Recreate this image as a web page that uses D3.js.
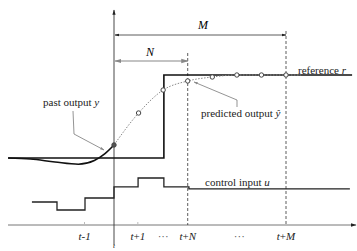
<!DOCTYPE html>
<html><head><meta charset="utf-8">
<script src="https://cdn.jsdelivr.net/npm/d3@7"></script>
<style>body{margin:0;background:#fff}svg{display:block}</style>
</head><body><svg id="c" width="357" height="251" font-family="'Liberation Serif', 'Times New Roman', serif" font-size="11"></svg>
<script>
// time steps (t = 0), N = 3, M = 7
const Nsteps = 3, Msteps = 7;
const pastOutput = [[-4.31,0],[-3.4,-0.012],[-2.4,-0.048],[-1.45,-0.075],[-0.8,-0.03],[-0.38,0.05],[0,0.157]];
const predicted = [[0,0.157],[1,0.542],[2,0.819],[3,0.928],[4,0.976],[5,1.0],[6,1.0],[7,1.0],[7.6,1.0]];
const predictedMarks = [0,1,2,3,4,5,6,7];
const reference = [[-4.31,0],[2.03,0],[2.03,1],[9.69,1]];
const controlInput = [[-3.34,1],[-2.32,1],[-2.32,0],[-1.18,0],[-1.18,1.5],[0,1.5],[0,2.9],[0.98,2.9],[0.98,4],[2.03,4],[2.03,2.9],[3.05,2.9],[3.05,2.65],[9.6,2.65]];
const tickLabels = [{t:-1.2,l:"t",s:"-1"},{t:0.97,l:"t",s:"+1"},{t:2,l:"···",s:""},{t:3,l:"t",s:"+N"},{t:5.1,l:"···",s:""},{t:7,l:"t",s:"+M"}];

const svg = d3.select("#c");
const x = d3.scaleLinear().domain([0,Msteps]).range([114,286]);
const y = d3.scaleLinear().domain([0,1]).range([158,75]);
const yu = d3.scaleLinear().domain([0,4]).range([210,178]);
const axisY = 225;

const defs = svg.append("defs");
function marker(id, color){
  defs.append("marker").attr("id",id).attr("viewBox","0 0 10 10").attr("refX",9).attr("refY",5)
    .attr("markerWidth",6).attr("markerHeight",6).attr("orient","auto-start-reverse")
    .append("path").attr("d","M0,2L10,5L0,8Z").attr("fill",color);
}
marker("ah","#222"); marker("ahg","#888");

// axes
svg.append("line").attr("x1",8).attr("x2",356).attr("y1",axisY).attr("y2",axisY).attr("stroke","#777").attr("stroke-width",1).attr("marker-end","url(#ah)");
svg.append("line").attr("x1",x(0)).attr("x2",x(0)).attr("y1",245).attr("y2",10).attr("stroke","#333").attr("stroke-width",0.9).attr("marker-end","url(#ah)");
[-1.2,0.97].forEach(t=>svg.append("line").attr("x1",x(t)).attr("x2",x(t)).attr("y1",axisY-3).attr("y2",axisY).attr("stroke","#bbb"));

// dashed verticals
svg.append("line").attr("x1",x(Nsteps)).attr("x2",x(Nsteps)).attr("y1",53).attr("y2",axisY).attr("stroke","#333").attr("stroke-dasharray","3,2").attr("stroke-width",0.8);
svg.append("line").attr("x1",x(Msteps)).attr("x2",x(Msteps)).attr("y1",31).attr("y2",axisY).attr("stroke","#333").attr("stroke-dasharray","3,2").attr("stroke-width",0.8);

// horizon arrows
svg.append("line").attr("x1",x(0)+1).attr("x2",x(Msteps)).attr("y1",35).attr("y2",35).attr("stroke","#333").attr("stroke-width",0.8).attr("marker-start","url(#ah)").attr("marker-end","url(#ah)");
svg.append("line").attr("x1",x(0)+1).attr("x2",x(Nsteps)).attr("y1",61).attr("y2",61).attr("stroke","#888").attr("stroke-width",1.2).attr("marker-start","url(#ahg)").attr("marker-end","url(#ahg)");
svg.append("text").attr("x",203).attr("y",29).attr("text-anchor","middle").attr("font-style","italic").attr("font-size",12).text("M");
svg.append("text").attr("x",150).attr("y",56).attr("text-anchor","middle").attr("font-style","italic").attr("font-size",12).text("N");

const line = d3.line().x(d=>x(d[0])).y(d=>y(d[1]));
svg.append("path").attr("d",line(reference)).attr("fill","none").attr("stroke","#111").attr("stroke-width",1.6);
svg.append("path").attr("d",d3.line().x(d=>x(d[0])).y(d=>y(d[1])).curve(d3.curveMonotoneX)(predicted)).attr("fill","none").attr("stroke","#888").attr("stroke-width",1).attr("stroke-dasharray","1.5,1.5");
svg.append("path").attr("d",d3.line().x(d=>x(d[0])).y(d=>y(d[1])).curve(d3.curveMonotoneX)(pastOutput)).attr("fill","none").attr("stroke","#111").attr("stroke-width",1.6);
const pv = new Map(predicted.map(d=>[d[0],d[1]]));
svg.selectAll("circle.p").data(predictedMarks).join("circle").attr("cx",d=>x(d)).attr("cy",d=>y(pv.get(d)))
  .attr("r",2.2).attr("fill",(d,i)=>i===0?"#555":"#fff").attr("stroke","#444").attr("stroke-width",1);

svg.append("path").attr("d",d3.line().x(d=>x(d[0])).y(d=>yu(d[1]))(controlInput)).attr("fill","none").attr("stroke","#222").attr("stroke-width",1.3);

// leaders
svg.append("path").attr("d","M73,111 L74,134 L104,150").attr("fill","none").attr("stroke","#666").attr("stroke-width",0.7).attr("marker-end","url(#ahg)");
svg.append("path").attr("d","M237,107 L237,100 L194,82").attr("fill","none").attr("stroke","#666").attr("stroke-width",0.7).attr("marker-end","url(#ahg)");

function lab(xp,yp,plain,it){
  const t = svg.append("text").attr("x",xp).attr("y",yp).attr("fill","#222");
  t.append("tspan").text(plain);
  t.append("tspan").attr("font-style","italic").text(it);
}
lab(43,106,"past output ","y");
lab(201,117,"predicted output ","ŷ");
lab(298,74,"reference ","r");
lab(205,186,"control input ","u");

tickLabels.forEach(d=>{
  const t = svg.append("text").attr("x",x(d.t)).attr("y",240).attr("text-anchor","middle").attr("fill","#222");
  if(d.s){ t.append("tspan").attr("font-style","italic").text(d.l); t.append("tspan").text(d.s[0]); if(d.s.length>1) t.append("tspan").attr("font-style","italic").text(d.s.slice(1)); }
  else t.text(d.l).attr("fill","#555");
});
svg.append("text").attr("x",x(0)).attr("y",248).attr("text-anchor","middle").attr("font-style","italic").attr("font-size",7).text("t");
</script></body></html>
